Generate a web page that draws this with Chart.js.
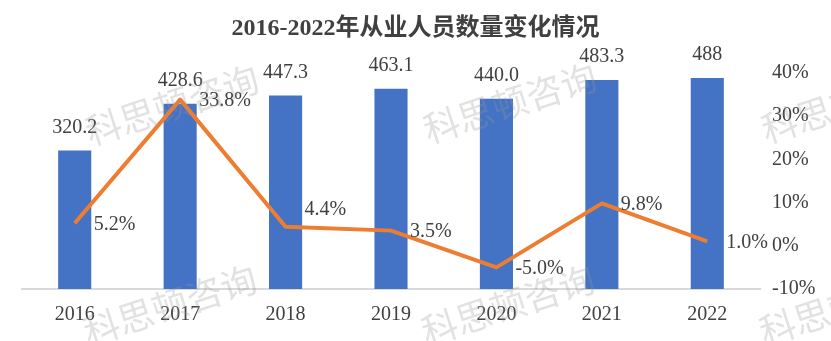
<!DOCTYPE html>
<html>
<head>
<meta charset="utf-8">
<script src="https://cdn.jsdelivr.net/npm/chart.js@4"></script>
<style>
  body { margin: 0; background: #fff; }
  #wrap { width: 831px; height: 341px; position: relative; }
</style>
</head>
<body>
<div id="wrap"><canvas id="staffChart"></canvas></div>
<script>
const years = ['2016', '2017', '2018', '2019', '2020', '2021', '2022'];
const staffCount = [320.2, 428.6, 447.3, 463.1, 440.0, 483.3, 488];
const staffText = ['320.2', '428.6', '447.3', '463.1', '440.0', '483.3', '488'];
const growthRate = [5.2, 33.8, 4.4, 3.5, -5.0, 9.8, 1.0];
const rateTicks = [-10, 0, 10, 20, 30, 40];

const textColor = '#404040';
const serif = '"Liberation Serif", "Times New Roman", serif';

const labelPlugin = {
    id: 'labels',
    afterDatasetsDraw: function (chart) {
        const ctx = chart.ctx;
        ctx.save();
        ctx.font = '20px ' + serif;
        ctx.fillStyle = textColor;
        ctx.textBaseline = 'middle';

        // bar values above bars
        ctx.textAlign = 'center';
        chart.getDatasetMeta(0).data.forEach((bar, i) => {
            ctx.fillText(staffText[i], bar.x, bar.y - 23);
        });

        // growth labels to the right of each point
        ctx.textAlign = 'left';
        chart.getDatasetMeta(1).data.forEach((pt, i) => {
            const lift = i === 2 ? 18 : 0; // excel moved this one up
            ctx.fillText(growthRate[i].toFixed(1) + '%', pt.x + 19, pt.y + 1 - lift);
        });
        ctx.restore();
    }
};

const watermarkPlugin = {
    id: 'watermark',
    afterDraw: function (chart) {
        const ctx = chart.ctx;
        const spots = [[172, 105], [510, 103], [848, 103], [170, 305], [508, 305], [846, 305]];
        ctx.save();
        ctx.font = '36px "Noto Sans CJK SC", sans-serif';
        ctx.fillStyle = 'rgba(150, 150, 150, 0.28)';
        ctx.textAlign = 'center';
        ctx.textBaseline = 'middle';
        spots.forEach(s => {
            ctx.save();
            ctx.translate(s[0], s[1]);
            ctx.rotate(-18 * Math.PI / 180);
            ctx.fillText('科思顿咨询', 0, 0);
            ctx.restore();
        });
        ctx.restore();
    }
};

const ctx = document.getElementById('staffChart').getContext('2d');
const staffChart = new Chart(ctx, {
    data: {
        labels: years,
        datasets: [{
            type: 'bar',
            data: staffCount,
            backgroundColor: '#4472C4',
            yAxisID: 'y',
            barPercentage: 0.314,
            categoryPercentage: 1,
            order: 2
        }, {
            type: 'line',
            data: growthRate,
            borderColor: '#ED7D31',
            borderWidth: 4,
            pointRadius: 0,
            tension: 0,
            borderJoinStyle: 'round',
            yAxisID: 'y1',
            order: 1
        }]
    },
    options: {
        responsive: true,
        maintainAspectRatio: false,
        animation: false,
        layout: {
            padding: 0
        },
        plugins: {
            legend: { display: false },
            tooltip: { enabled: false },
            title: {
                display: true,
                text: '2016-2022年从业人员数量变化情况',
                color: textColor,
                font: { family: '"Liberation Serif", "Noto Sans CJK SC", serif', size: 24, weight: 'bold' },
                padding: { top: 14, bottom: 30 }
            }
        },
        scales: {
            x: {
                grid: { display: false, drawTicks: false },
                border: { display: true, color: '#D9D9D9', width: 2 },
                ticks: {
                    color: textColor,
                    font: { family: serif, size: 20 },
                    padding: 14
                }
            },
            y: {
                position: 'left',
                min: 0,
                max: 500,
                grid: { display: false, drawTicks: false },
                border: { display: false },
                ticks: { display: false },
                afterFit: function (axis) { axis.width = 22; }
            },
            y1: {
                position: 'right',
                min: -10,
                max: 40,
                grid: { display: false, drawTicks: false },
                border: { display: false },
                afterBuildTicks: function (axis) {
                    axis.ticks = rateTicks.map(v => ({ value: v }));
                },
                afterFit: function (axis) { axis.width = 71; },
                ticks: {
                    color: textColor,
                    font: { family: serif, size: 20 },
                    padding: 12,
                    callback: v => v + '%'
                }
            }
        }
    },
    plugins: [labelPlugin, watermarkPlugin]
});
</script>
</body>
</html>
